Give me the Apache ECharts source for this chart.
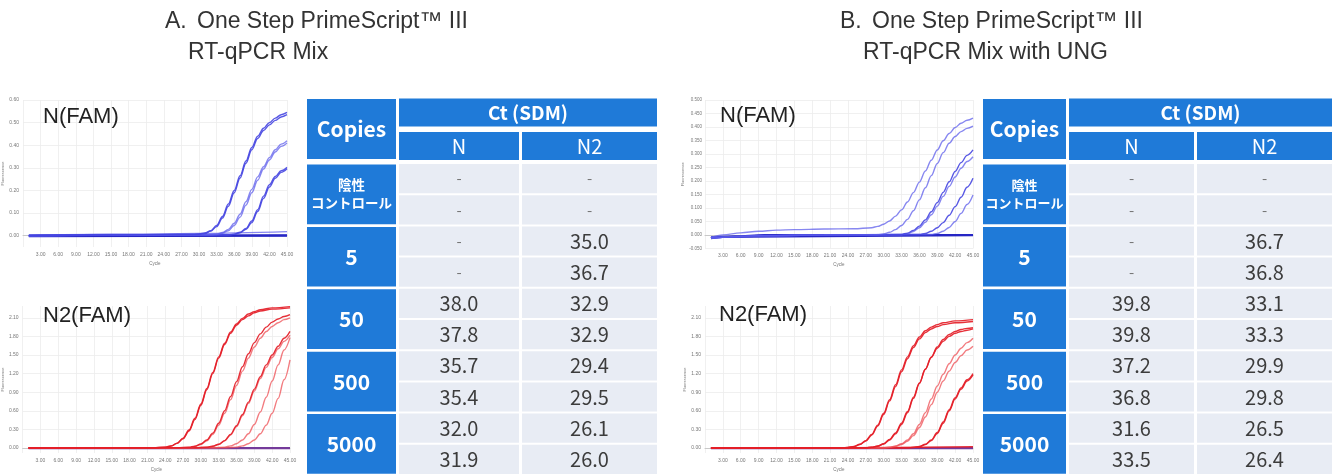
<!DOCTYPE html>
<html><head><meta charset="utf-8">
<script src="https://cdn.jsdelivr.net/npm/echarts@6/dist/echarts.min.js"></script>
<style>html,body{margin:0;padding:0;background:#fff}#c{width:1338px;height:475px}</style>
</head><body><div id="c"></div>
<script>
// ---------- DATA ----------
const titleA = ['A.', 'One Step PrimeScript™ III', 'RT-qPCR Mix'];
const titleB = ['B.', 'One Step PrimeScript™ III', 'RT-qPCR Mix with UNG'];
const panelLabels = ['N(FAM)', 'N2(FAM)'];
const copiesHeader = 'Copies';
const ctHeader = 'Ct (SDM)';
const colHeaders = ['N', 'N2'];
const copiesGroups = ['陰性\nコントロール', '5', '50', '500', '5000'];
const ctN_A  = ['-', '-', '-', '-', '38.0', '37.8', '35.7', '35.4', '32.0', '31.9'];
const ctN2_A = ['-', '-', '35.0', '36.7', '32.9', '32.9', '29.4', '29.5', '26.1', '26.0'];
const ctN_B  = ['-', '-', '-', '-', '39.8', '39.8', '37.2', '36.8', '31.6', '33.5'];
const ctN2_B = ['-', '-', '36.7', '36.8', '33.1', '33.3', '29.9', '29.8', '26.5', '26.4'];

const yTicksA_N = [0,0.1,0.2,0.3,0.4,0.5,0.6];
const yTicksN2 = [0,0.3,0.6,0.9,1.2,1.5,1.8,2.1];

// amplification curves [cycle, fluorescence]
const A_N_5000a = [[1,0.002],[10,0.004],[20,0.006],[29,0.006],[30,0.008],[31,0.012],[32,0.022],[33,0.045],[34,0.085],[35,0.14],[36,0.2],[37,0.265],[38,0.33],[39,0.39],[40,0.44],[41,0.475],[42,0.5],[43,0.52],[44,0.535],[45,0.545]];
const A_N_5000b = [[1,0],[20,0.004],[30,0.006],[31,0.01],[32,0.02],[33,0.04],[34,0.078],[35,0.13],[36,0.19],[37,0.255],[38,0.32],[39,0.38],[40,0.43],[41,0.465],[42,0.49],[43,0.51],[44,0.525],[45,0.535]];
const A_N_500a = [[1,0],[20,0.003],[32,0.004],[33,0.007],[34,0.014],[35,0.028],[36,0.055],[37,0.095],[38,0.15],[39,0.205],[40,0.26],[41,0.305],[42,0.345],[43,0.38],[44,0.405],[45,0.42]];
const A_N_500b = [[1,0],[20,0.003],[33,0.005],[34,0.011],[35,0.022],[36,0.045],[37,0.082],[38,0.135],[39,0.19],[40,0.245],[41,0.295],[42,0.335],[43,0.37],[44,0.395],[45,0.41]];
const A_N_50a = [[1,0],[20,0.002],[35,0.004],[36,0.007],[37,0.015],[38,0.032],[39,0.065],[40,0.115],[41,0.175],[42,0.225],[43,0.262],[44,0.287],[45,0.302]];
const A_N_50b = [[1,0],[20,0.002],[35,0.003],[36,0.006],[37,0.013],[38,0.028],[39,0.058],[40,0.107],[41,0.165],[42,0.215],[43,0.254],[44,0.28],[45,0.296]];
const A_N_flat1 = [[1,0.003],[20,0.006],[30,0.01],[45,0.018]];
const A_N_flat2 = [[1,0],[45,0.002]];
const A_N_flat3 = [[1,-0.002],[45,0]];

const A_N2_5000a = [[1,0],[22,0.005],[24,0.015],[25,0.035],[26,0.08],[27,0.16],[28,0.29],[29,0.48],[30,0.71],[31,0.96],[32,1.22],[33,1.47],[34,1.69],[35,1.87],[36,2.0],[37,2.09],[38,2.16],[39,2.2],[40,2.23],[42,2.26],[45,2.28]];
const A_N2_5000b = [[1,0],[22,0.004],[24,0.013],[25,0.032],[26,0.075],[27,0.15],[28,0.275],[29,0.46],[30,0.69],[31,0.94],[32,1.2],[33,1.45],[34,1.67],[35,1.85],[36,1.98],[37,2.07],[38,2.13],[39,2.18],[40,2.21],[42,2.24],[45,2.26]];
const A_N2_500a = [[1,0],[26,0.004],[28,0.012],[29,0.03],[30,0.065],[31,0.13],[32,0.24],[33,0.4],[34,0.6],[35,0.83],[36,1.07],[37,1.31],[38,1.52],[39,1.7],[40,1.84],[41,1.95],[42,2.03],[43,2.08],[44,2.12],[45,2.15]];
const A_N2_500b = [[1,0],[26,0.003],[28,0.01],[29,0.027],[30,0.058],[31,0.118],[32,0.22],[33,0.37],[34,0.56],[35,0.78],[36,1.01],[37,1.24],[38,1.45],[39,1.63],[40,1.77],[41,1.88],[42,1.96],[43,2.02],[44,2.07],[45,2.1]];
const A_N2_50a = [[1,0],[29,0.004],[31,0.012],[32,0.03],[33,0.06],[34,0.12],[35,0.22],[36,0.36],[37,0.54],[38,0.74],[39,0.95],[40,1.15],[41,1.34],[42,1.5],[43,1.64],[44,1.77],[45,1.88]];
const A_N2_50b = [[1,0],[29,0.004],[31,0.012],[32,0.028],[33,0.058],[34,0.115],[35,0.21],[36,0.345],[37,0.52],[38,0.72],[39,0.92],[40,1.12],[41,1.3],[42,1.46],[43,1.6],[44,1.72],[45,1.82]];
const A_N2_5a = [[1,0],[32,0.004],[34,0.015],[35,0.035],[36,0.07],[37,0.13],[38,0.23],[39,0.38],[40,0.58],[41,0.82],[42,1.08],[43,1.34],[44,1.58],[45,1.78]];
const A_N2_5b = [[1,0],[34,0.004],[36,0.015],[37,0.035],[38,0.07],[39,0.13],[40,0.23],[41,0.37],[42,0.56],[43,0.8],[44,1.1],[45,1.42]];
const A_N2_ntc = [[1,0],[45,0]];

const B_N_5000a = [[1,-0.01],[3,0],[6,0.008],[9,0.014],[12,0.018],[15,0.02],[20,0.022],[25,0.023],[28,0.027],[29,0.032],[30,0.04],[31,0.052],[32,0.07],[33,0.093],[34,0.122],[35,0.157],[36,0.196],[37,0.237],[38,0.277],[39,0.315],[40,0.349],[41,0.376],[42,0.398],[43,0.414],[44,0.425],[45,0.433]];
const B_N_5000b = [[1,-0.012],[10,-0.002],[20,0],[29,0.001],[30,0.004],[31,0.01],[32,0.02],[33,0.035],[34,0.058],[35,0.09],[36,0.13],[37,0.175],[38,0.22],[39,0.265],[40,0.305],[41,0.34],[42,0.365],[43,0.383],[44,0.395],[45,0.403]];
const B_N_500a = [[1,-0.01],[20,0],[33,0.002],[34,0.007],[35,0.017],[36,0.033],[37,0.056],[38,0.086],[39,0.12],[40,0.158],[41,0.197],[42,0.235],[43,0.268],[44,0.295],[45,0.315]];
const B_N_500b = [[1,-0.01],[20,0],[33,0.001],[34,0.005],[35,0.013],[36,0.027],[37,0.047],[38,0.075],[39,0.107],[40,0.143],[41,0.18],[42,0.215],[43,0.247],[44,0.272],[45,0.29]];
const B_N_50a = [[1,-0.01],[20,0],[36,0.002],[37,0.006],[38,0.014],[39,0.027],[40,0.046],[41,0.073],[42,0.105],[43,0.14],[44,0.177],[45,0.21]];
const B_N_50b = [[1,-0.01],[20,0],[38,0.002],[39,0.006],[40,0.014],[41,0.028],[42,0.05],[43,0.08],[44,0.113],[45,0.148]];
const B_N_flat1 = [[1,-0.012],[5,-0.005],[10,0],[45,0]];
const B_N_flat2 = [[1,-0.008],[45,-0.002]];

const B_N2_5000a = [[1,0],[23,0.004],[24,0.01],[25,0.025],[26,0.06],[27,0.12],[28,0.22],[29,0.37],[30,0.56],[31,0.78],[32,1.02],[33,1.26],[34,1.47],[35,1.65],[36,1.79],[37,1.89],[38,1.95],[39,1.99],[40,2.02],[42,2.05],[45,2.07]];
const B_N2_5000b = [[1,0],[23,0.003],[24,0.009],[25,0.023],[26,0.056],[27,0.113],[28,0.21],[29,0.355],[30,0.54],[31,0.76],[32,0.99],[33,1.23],[34,1.44],[35,1.62],[36,1.76],[37,1.86],[38,1.92],[39,1.96],[40,1.99],[42,2.02],[45,2.04]];
const B_N2_500a = [[1,0],[27,0.004],[28,0.012],[29,0.03],[30,0.065],[31,0.13],[32,0.23],[33,0.38],[34,0.57],[35,0.8],[36,1.04],[37,1.27],[38,1.47],[39,1.63],[40,1.75],[41,1.83],[42,1.88],[43,1.91],[44,1.93],[45,1.94]];
const B_N2_500b = [[1,0],[27,0.004],[28,0.013],[29,0.032],[30,0.07],[31,0.14],[32,0.245],[33,0.4],[34,0.59],[35,0.82],[36,1.05],[37,1.27],[38,1.46],[39,1.61],[40,1.72],[41,1.8],[42,1.85],[43,1.88],[44,1.9],[45,1.92]];
const B_N2_50a = [[1,0],[30,0.004],[31,0.013],[32,0.032],[33,0.068],[34,0.13],[35,0.23],[36,0.38],[37,0.57],[38,0.79],[39,1.0],[40,1.19],[41,1.36],[42,1.5],[43,1.61],[44,1.7],[45,1.77]];
const B_N2_50b = [[1,0],[30,0.003],[31,0.01],[32,0.026],[33,0.057],[34,0.11],[35,0.2],[36,0.33],[37,0.5],[38,0.7],[39,0.9],[40,1.08],[41,1.24],[42,1.38],[43,1.49],[44,1.58],[45,1.64]];
const B_N2_5a = [[1,0],[34,0.004],[35,0.01],[36,0.025],[37,0.06],[38,0.13],[39,0.25],[40,0.42],[41,0.62],[42,0.81],[43,0.97],[44,1.1],[45,1.2]];
const B_N2_5b = [[1,0],[34,0.003],[35,0.009],[36,0.022],[37,0.055],[38,0.12],[39,0.235],[40,0.4],[41,0.6],[42,0.79],[43,0.95],[44,1.08],[45,1.18]];
const B_N2_flat = [[1,0],[24,0.005],[45,0.02]];
const B_N2_ntc = [[1,0],[45,0]];

// ---------- STYLE / LAYOUT ----------
const BLUE = '#1F7AD8', CELL = '#E8ECF4', TXT = '#3c3c3c';
const JP = '"Noto Sans CJK JP","Noto Sans",sans-serif';
const AR = '"Liberation Sans",Arial,sans-serif';
const chart = echarts.init(document.getElementById('c'));

function xAxisCycle(gi) {
  return { gridIndex: gi, type: 'value', min: 0, max: 45, interval: 3,
    name: 'Cycle', nameLocation: 'middle', nameGap: 14, nameTextStyle: {fontSize: 4.5, color: '#777'},
    axisLine: {lineStyle: {color: '#c8c8c8'}}, axisTick: {show: false},
    axisLabel: {fontSize: 5, color: '#777', margin: 5, formatter: v => v === 0 ? '' : v.toFixed(2)},
    splitLine: {lineStyle: {color: '#ececec', width: 0.8}} };
}
function yAxisCustom(gi, min, max, ticks, dec) {
  return { gridIndex: gi, type: 'value', min, max,
    name: 'Fluorescence', nameLocation: 'middle', nameGap: 15, nameTextStyle: {fontSize: 4, color: '#777'},
    axisLine: {show: false},
    axisTick: {show: false, customValues: ticks},
    axisLabel: {fontSize: 5, color: '#777', margin: 4, customValues: ticks, formatter: v => v.toFixed(dec)},
    splitLine: {lineStyle: {color: '#ececec', width: 0.8}} };
}
function yAxisInterval(gi, min, max, interval, dec) {
  return { gridIndex: gi, type: 'value', min, max, interval,
    name: 'Fluorescence', nameLocation: 'middle', nameGap: 17, nameTextStyle: {fontSize: 4, color: '#777'},
    axisLine: {show: false}, axisTick: {show: false},
    axisLabel: {fontSize: 4.5, color: '#777', margin: 3, formatter: v => v.toFixed(dec)},
    splitLine: {lineStyle: {color: '#ececec', width: 0.8}} };
}
function line(gi, data, color, width) {
  return { type: 'line', xAxisIndex: gi, yAxisIndex: gi, data, showSymbol: false, symbol: 'none',
    smooth: 0.35, smoothMonotone: 'x', silent: true, lineStyle: {color, width: width || 1.4}, z: 3 };
}

const BL1 = 'rgba(70,70,225,0.9)', BL2 = 'rgba(95,95,235,0.75)', BLD = '#2626c4';
const RD1 = 'rgba(228,30,40,0.92)', RD2 = 'rgba(238,80,85,0.75)', PUR = '#743a9a';

// ----- tables (custom series on a pixel-unit grid) -----
function tableSeries(gi, cols, nVals, n2Vals, grpFont) {
  const cells = [];
  cells.push({kind: 'hCopies', text: copiesHeader});
  cells.push({kind: 'hCt', text: ctHeader});
  colHeaders.forEach((t, i) => cells.push({kind: 'hCol', col: i + 1, text: t}));
  copiesGroups.forEach((t, g) => cells.push({kind: 'group', g, text: t}));
  nVals.forEach((t, i) => cells.push({kind: 'cell', col: 1, row: i, text: t}));
  n2Vals.forEach((t, i) => cells.push({kind: 'cell', col: 2, row: i, text: t}));
  const dataTop = 65, rowH = 31.2;
  return {
    type: 'custom', xAxisIndex: gi, yAxisIndex: gi, silent: true, clip: false,
    data: cells.map((c, i) => [i, i]),
    renderItem: (params, api) => {
      const c = cells[params.dataIndex];
      let x0, x1, y0, y1, fill = BLUE, color = '#fff', font = 'bold 20px ' + JP, lh;
      if (c.kind === 'hCopies') { x0 = cols[0][0]; x1 = cols[0][1]; y0 = 1; y1 = 61; font = 'bold 21px ' + JP; }
      else if (c.kind === 'hCt') { x0 = cols[1][0]; x1 = cols[2][1]; y0 = 0.5; y1 = 28.5; font = 'bold 19px ' + JP; }
      else if (c.kind === 'hCol') { x0 = cols[c.col][0]; x1 = cols[c.col][1]; y0 = 34; y1 = 62; font = '20px ' + JP; }
      else if (c.kind === 'group') { x0 = cols[0][0]; x1 = cols[0][1]; y0 = dataTop + c.g * 2 * rowH + 1.5; y1 = dataTop + (c.g + 1) * 2 * rowH - 1.2;
        if (c.g === 0) { font = 'bold ' + grpFont + 'px ' + JP; lh = 18; } else font = 'bold 21px ' + JP; }
      else { x0 = cols[c.col][0]; x1 = cols[c.col][1]; y0 = dataTop + c.row * rowH + 1; y1 = dataTop + (c.row + 1) * rowH - 1;
        fill = CELL; color = c.text === '-' ? '#777' : TXT; font = (c.text === '-' ? '15px ' : '20px ') + JP; }
      const p0 = api.coord([x0, y0]), p1 = api.coord([x1, y1]);
      const x = Math.min(p0[0], p1[0]), y = Math.min(p0[1], p1[1]);
      const w = Math.abs(p1[0] - p0[0]), h = Math.abs(p1[1] - p0[1]);
      const ts = {text: c.text, x: x + w / 2, y: y + h / 2, align: 'center', verticalAlign: 'middle', font, fill: color};
      if (lh) ts.lineHeight = lh;
      return {type: 'group', children: [
        {type: 'rect', shape: {x, y, width: w, height: h}, style: {fill}},
        {type: 'text', style: ts, z2: 5}
      ]};
    }
  };
}
const colsA = [[0, 89], [92, 212], [215, 350]];
const colsB = [[0, 83], [86, 211], [214, 349]];
function tableAxes(gi, w) {
  return {
    x: {gridIndex: gi, type: 'value', min: 0, max: w, show: false},
    y: {gridIndex: gi, type: 'value', min: 0, max: 377, inverse: true, show: false}
  };
}
const tA = tableAxes(4, 350), tB = tableAxes(5, 349);
const TF = '23px ' + AR;

const option = {
  animation: false,
  backgroundColor: '#fff',
  grid: [
    {left: 23, top: 100, width: 264, height: 147},
    {left: 22, top: 306, width: 268, height: 147},
    {left: 705, top: 100, width: 268, height: 148.5},
    {left: 705, top: 306, width: 268, height: 147},
    {left: 307, top: 98, width: 350, height: 377},
    {left: 983, top: 98, width: 349, height: 377}
  ],
  xAxis: [xAxisCycle(0), xAxisCycle(1), xAxisCycle(2), xAxisCycle(3), tA.x, tB.x],
  yAxis: [
    yAxisCustom(0, -0.05, 0.6, yTicksA_N, 2),
    yAxisCustom(1, -0.08, 2.29, yTicksN2, 2),
    yAxisInterval(2, -0.05, 0.5, 0.05, 3),
    yAxisCustom(3, -0.08, 2.29, yTicksN2, 2),
    tA.y, tB.y
  ],
  graphic: [
    {type: 'text', left: 165, top: 10, style: {text: titleA[0], font: TF, fill: '#333'}},
    {type: 'text', left: 197, top: 10, style: {text: titleA[1], font: TF, fill: '#333'}},
    {type: 'text', left: 188, top: 41, style: {text: titleA[2], font: TF, fill: '#333'}},
    {type: 'text', left: 840, top: 10, style: {text: titleB[0], font: TF, fill: '#333'}},
    {type: 'text', left: 872, top: 10, style: {text: titleB[1], font: TF, fill: '#333'}},
    {type: 'text', left: 863, top: 41, style: {text: titleB[2], font: TF, fill: '#333'}},
    {type: 'text', left: 43, top: 106, z: 10, style: {text: panelLabels[0], font: '22px ' + AR, fill: '#222'}},
    {type: 'text', left: 43, top: 305, z: 10, style: {text: panelLabels[1], font: '22px ' + AR, fill: '#222'}},
    {type: 'text', left: 720, top: 105, z: 10, style: {text: panelLabels[0], font: '22px ' + AR, fill: '#222'}},
    {type: 'text', left: 719, top: 304, z: 10, style: {text: panelLabels[1], font: '22px ' + AR, fill: '#222'}}
  ],
  series: [
    line(0, A_N_flat1, BL2), line(0, A_N_flat2, BLD, 2), line(0, A_N_flat3, BLD, 2),
    line(0, A_N_50b, BL1), line(0, A_N_50a, BL1), line(0, A_N_500b, BL2), line(0, A_N_500a, BL2),
    line(0, A_N_5000b, BL1), line(0, A_N_5000a, BL1),
    line(1, A_N2_ntc, PUR, 2.2), line(1, A_N2_5b, RD2), line(1, A_N2_5a, RD2),
    line(1, A_N2_50b, RD2), line(1, A_N2_50a, RD1), line(1, A_N2_500b, RD2), line(1, A_N2_500a, RD1),
    line(1, A_N2_5000b, RD1), line(1, A_N2_5000a, RD1),
    line(2, B_N_flat1, BLD, 2), line(2, B_N_flat2, BLD, 1.6),
    line(2, B_N_50b, BL2), line(2, B_N_50a, BL1), line(2, B_N_500b, BL2), line(2, B_N_500a, BL1),
    line(2, B_N_5000b, BL2), line(2, B_N_5000a, BL2),
    line(3, B_N2_ntc, PUR, 2.2), line(3, B_N2_flat, RD1), line(3, B_N2_5b, RD1), line(3, B_N2_5a, RD1),
    line(3, B_N2_50b, RD2), line(3, B_N2_50a, RD2), line(3, B_N2_500b, RD1), line(3, B_N2_500a, RD1),
    line(3, B_N2_5000b, RD1), line(3, B_N2_5000a, RD1),
    tableSeries(4, colsA, ctN_A, ctN2_A, 13.5),
    tableSeries(5, colsB, ctN_B, ctN2_B, 13)
  ]
};
chart.setOption(option);
</script></body></html>
